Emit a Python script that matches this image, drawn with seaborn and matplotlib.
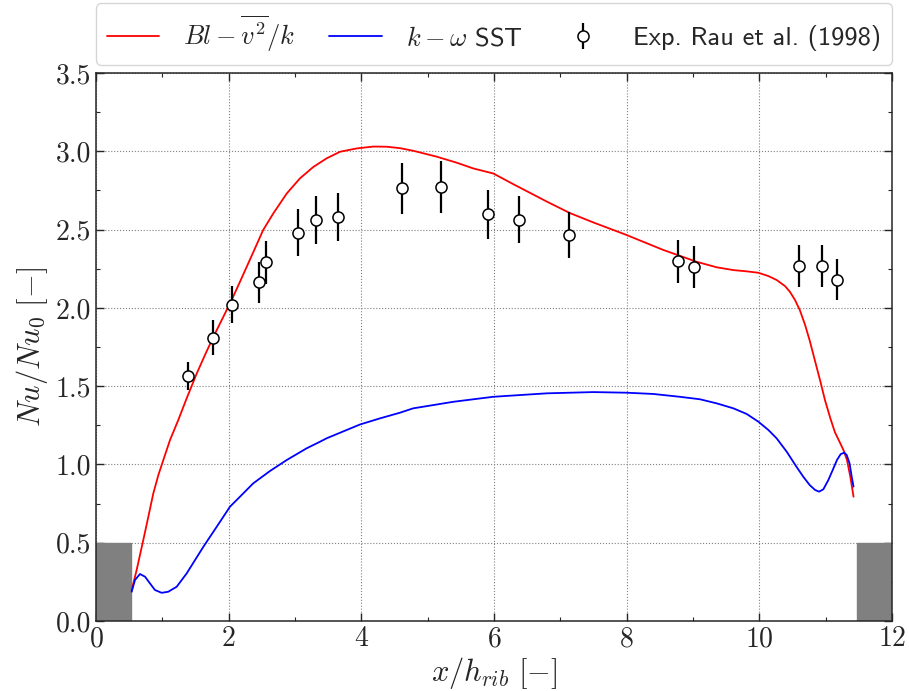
import numpy as np
import pandas as pd
import seaborn as sns
import matplotlib
matplotlib.use('Agg')
from matplotlib import pyplot as plt
from matplotlib.patches import Rectangle

# Bl-v2/k model (red)
x_bl = [0.538, 0.613, 0.713, 0.789, 0.864, 0.94, 1.015, 1.116, 1.24, 1.367, 1.518, 1.643,
        1.77, 1.92, 2.045, 2.171, 2.27, 2.397, 2.52, 2.673, 2.875, 3.075, 3.277, 3.478,
        3.68, 3.93, 4.18, 4.383, 4.58, 4.784, 5.14, 5.438, 5.69, 5.99, 6.29, 6.79, 7.146,
        7.5, 8.0, 8.55, 9.056, 9.357, 9.61, 9.81, 9.985, 10.136, 10.26, 10.387, 10.46,
        10.538, 10.61, 10.689, 10.76, 10.84, 10.92, 10.99, 11.07, 11.14, 11.22, 11.27,
        11.32, 11.37, 11.42]
y_bl = [0.198, 0.326, 0.517, 0.666, 0.815, 0.932, 1.028, 1.156, 1.283, 1.422, 1.58, 1.699,
        1.815, 1.943, 2.05, 2.167, 2.26, 2.38, 2.497, 2.603, 2.73, 2.827, 2.90, 2.955,
        2.997, 3.018, 3.03, 3.029, 3.02, 3.003, 2.965, 2.927, 2.89, 2.858, 2.79, 2.68, 2.605,
        2.545, 2.465, 2.37, 2.294, 2.259, 2.241, 2.233, 2.224, 2.203, 2.178, 2.139, 2.103,
        2.05, 1.986, 1.892, 1.79, 1.66, 1.53, 1.41, 1.295, 1.205, 1.135, 1.09,
        1.03, 0.925, 0.794]

# k-omega SST (blue)
x_sst = [0.538, 0.588, 0.663, 0.739, 0.814, 0.889, 0.99, 1.09, 1.217, 1.367, 1.62, 1.82,
         2.02, 2.171, 2.37, 2.623, 2.875, 3.176, 3.377, 3.478, 3.78, 3.98, 4.28, 4.58, 4.78,
         5.387, 5.99, 6.795, 7.5, 8.0, 8.4, 8.8, 9.106, 9.357, 9.61, 9.81, 9.985, 10.136,
         10.26, 10.413, 10.56, 10.663, 10.76, 10.84, 10.9, 10.965, 11.04, 11.106, 11.17,
         11.227, 11.28, 11.317, 11.36, 11.393, 11.42]
y_sst = [0.187, 0.262, 0.30, 0.283, 0.24, 0.198, 0.18, 0.187, 0.219, 0.304, 0.475, 0.602,
         0.73, 0.794, 0.879, 0.958, 1.028, 1.103, 1.145, 1.167, 1.22, 1.255, 1.294, 1.33, 1.358,
         1.40, 1.432, 1.454, 1.462, 1.458, 1.45, 1.432, 1.416, 1.39, 1.358, 1.322, 1.273, 1.22,
         1.167, 1.081, 0.985, 0.921, 0.868, 0.837, 0.826, 0.841, 0.90, 0.964, 1.028,
         1.066, 1.075, 1.06, 1.007, 0.921, 0.858]

# Rau et al. (1998) experiment
x_exp = [1.39, 1.77, 2.05, 2.45, 2.56, 3.05, 3.32, 3.65, 4.62, 5.20, 5.905, 6.38, 7.135,
         8.78, 9.02, 10.6, 10.95, 11.17]
y_exp = [1.566, 1.81, 2.02, 2.163, 2.29, 2.48, 2.56, 2.58, 2.763, 2.77, 2.597, 2.563,
         2.463, 2.297, 2.262, 2.267, 2.267, 2.18]
err_exp = [0.09, 0.11, 0.12, 0.13, 0.135, 0.15, 0.155, 0.155, 0.165, 0.165, 0.155, 0.15,
           0.147, 0.138, 0.136, 0.136, 0.136, 0.13]

sns.set_style('ticks')
plt.rcParams['font.family'] = 'serif'
plt.rcParams['font.serif'] = ['cmr10']
plt.rcParams['mathtext.fontset'] = 'cm'
plt.rcParams['axes.formatter.use_mathtext'] = True
plt.rcParams['axes.unicode_minus'] = False

fig = plt.figure(figsize=(9.09, 6.91), dpi=100)
ax = fig.add_axes([0.1056, 0.1013, 0.8757, 0.7931])

df_bl = pd.DataFrame({'x': x_bl, 'y': y_bl})
df_sst = pd.DataFrame({'x': x_sst, 'y': y_sst})
sns.lineplot(data=df_bl, x='x', y='y', color='red', lw=1.3, ax=ax,
             label=r'$Bl-\overline{v^2}/k$', sort=False)
sns.lineplot(data=df_sst, x='x', y='y', color='blue', lw=1.3, ax=ax,
             label=r'$k-\omega$ SST', sort=False)
ax.errorbar(x_exp, y_exp, yerr=err_exp, fmt='o', mfc='white', mec='black', ms=8,
            mew=1.1, ecolor='black', elinewidth=1.6, capsize=0, zorder=5,
            label='Exp. Rau et al. (1998)')

# ribs
ax.add_patch(Rectangle((0, 0), 0.53, 0.5, color='#808080', zorder=1))
ax.add_patch(Rectangle((11.47, 0), 0.53, 0.5, color='#808080', zorder=1))

ax.set_xlim(0, 12)
ax.set_ylim(0, 3.5)
ax.set_xticks([0, 2, 4, 6, 8, 10, 12])
ax.set_yticks(np.arange(0, 3.51, 0.5))
ax.set_xticks(np.arange(0, 12.1, 1), minor=True)
ax.set_yticks(np.arange(0, 3.51, 0.25), minor=True)
ax.yaxis.set_major_formatter(matplotlib.ticker.FormatStrFormatter('%.1f'))
ax.tick_params(which='both', direction='in', top=True, right=True, labelsize=20)
ax.tick_params(which='major', length=6, width=1)
ax.tick_params(which='minor', length=3, width=0.8)
ax.grid(True, which='major', ls=':', color='gray', lw=0.8)
for s in ax.spines.values():
    s.set_linewidth(1.1)

ax.set_xlabel(r'$x/h_{rib}\ [-]$', fontsize=22, labelpad=2)
ax.set_ylabel(r'$Nu/Nu_0\ [-]$', fontsize=22, labelpad=4)

ax.legend(loc='lower left', bbox_to_anchor=(0, 1.015, 1, 0.1), mode='expand', ncol=3,
          prop={'family': 'cmss10', 'size': 19}, frameon=True, fancybox=True,
          borderaxespad=0, handlelength=2.0, handletextpad=0.9)

plt.savefig('out.png', dpi=100)
